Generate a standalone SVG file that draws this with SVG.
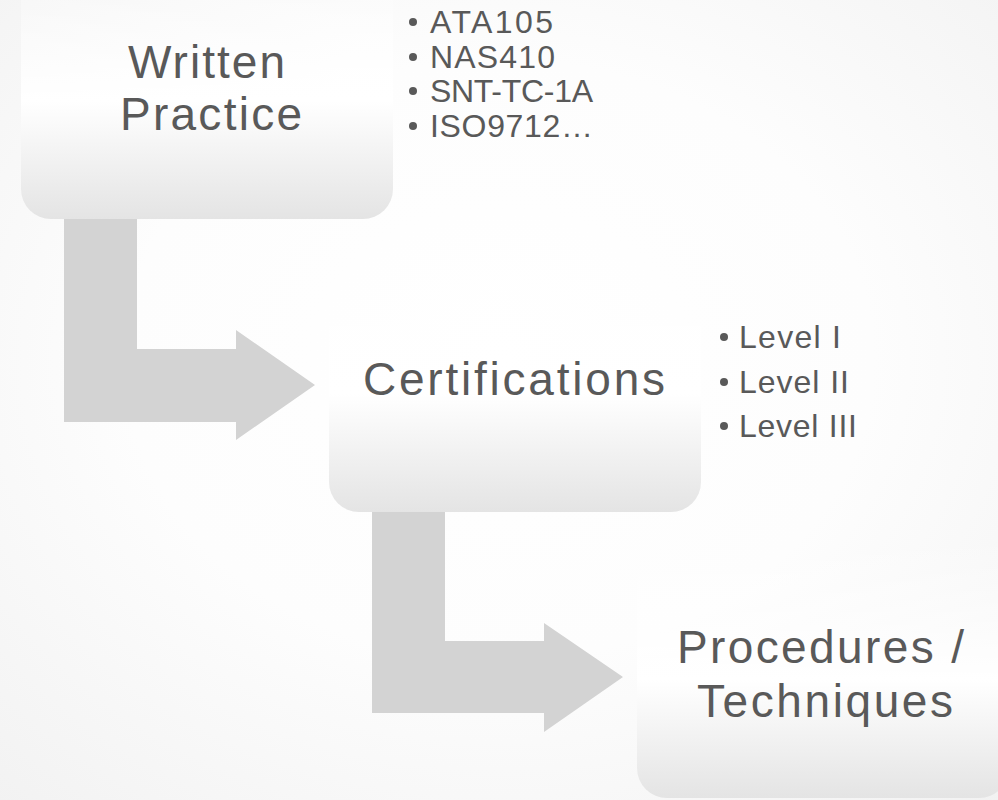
<svg xmlns="http://www.w3.org/2000/svg" width="998" height="800" viewBox="0 0 998 800">
  <defs>
    <radialGradient id="bg" cx="50%" cy="45%" r="75%">
      <stop offset="0" stop-color="#ffffff"/>
      <stop offset="0.5" stop-color="#fdfdfd"/>
      <stop offset="1" stop-color="#f2f2f2"/>
    </radialGradient>
    <linearGradient id="boxfill" x1="0" y1="0" x2="0" y2="1">
      <stop offset="0" stop-color="#ffffff" stop-opacity="0"/>
      <stop offset="0.35" stop-color="#ffffff" stop-opacity="0.6"/>
      <stop offset="0.55" stop-color="#ffffff" stop-opacity="1"/>
      <stop offset="1" stop-color="#e4e4e4" stop-opacity="1"/>
    </linearGradient>
  </defs>
  <style>
    .box { fill: url(#boxfill); }
    .arrow { fill: #d3d3d3; }
    .lbl { font-family: "Liberation Sans", Arial, sans-serif; font-size: 46px; fill: #595959; text-anchor: middle; }
    .item { font-family: "Liberation Sans", Arial, sans-serif; font-size: 32px; fill: #595959; }
    .dot { fill: #595959; }
  </style>
  <rect x="0" y="0" width="998" height="800" fill="url(#bg)"/>

  <g id="connectors">
    <polygon class="arrow" points="64,200 137,200 137,349 236,349 236,330 315,385 236,440 236,422 64,422"/>
    <polygon class="arrow" points="372,500 445,500 445,641 544,641 544,623 623,677 544,732 544,713 372,713"/>
  </g>

  <g id="node-written-practice">
    <rect class="box" x="21" y="-43" width="372" height="262" rx="30" ry="30"/>
    <text class="lbl" x="206.5" y="78" textLength="157" lengthAdjust="spacing">Written</text>
    <text class="lbl" x="211" y="130" textLength="182" lengthAdjust="spacing">Practice</text>
    <g id="list-standards">
      <circle class="dot" cx="413" cy="22" r="4"/>
      <text class="item" x="430" y="33" textLength="123" lengthAdjust="spacing">ATA105</text>
      <circle class="dot" cx="413" cy="57" r="4"/>
      <text class="item" x="430" y="68" textLength="125" lengthAdjust="spacing">NAS410</text>
      <circle class="dot" cx="413" cy="91" r="4"/>
      <text class="item" x="430" y="102" textLength="163" lengthAdjust="spacing">SNT-TC-1A</text>
      <circle class="dot" cx="413" cy="126" r="4"/>
      <text class="item" x="430" y="137" textLength="163" lengthAdjust="spacing">ISO9712…</text>
    </g>
  </g>

  <g id="node-certifications">
    <rect class="box" x="329" y="250" width="372" height="262" rx="30" ry="30"/>
    <text class="lbl" x="514" y="395" textLength="302" lengthAdjust="spacing">Certifications</text>
    <g id="list-levels">
      <circle class="dot" cx="724" cy="337" r="4"/>
      <text class="item" x="739" y="348" textLength="102" lengthAdjust="spacing">Level I</text>
      <circle class="dot" cx="724" cy="382" r="4"/>
      <text class="item" x="739" y="393" textLength="110" lengthAdjust="spacing">Level II</text>
      <circle class="dot" cx="724" cy="426" r="4"/>
      <text class="item" x="739" y="437" textLength="118" lengthAdjust="spacing">Level III</text>
    </g>
  </g>

  <g id="node-procedures">
    <rect class="box" x="637" y="536" width="372" height="262" rx="30" ry="30"/>
    <text class="lbl" x="820.5" y="663" textLength="287" lengthAdjust="spacing">Procedures /</text>
    <text class="lbl" x="825" y="717" textLength="256" lengthAdjust="spacing">Techniques</text>
  </g>
</svg>
